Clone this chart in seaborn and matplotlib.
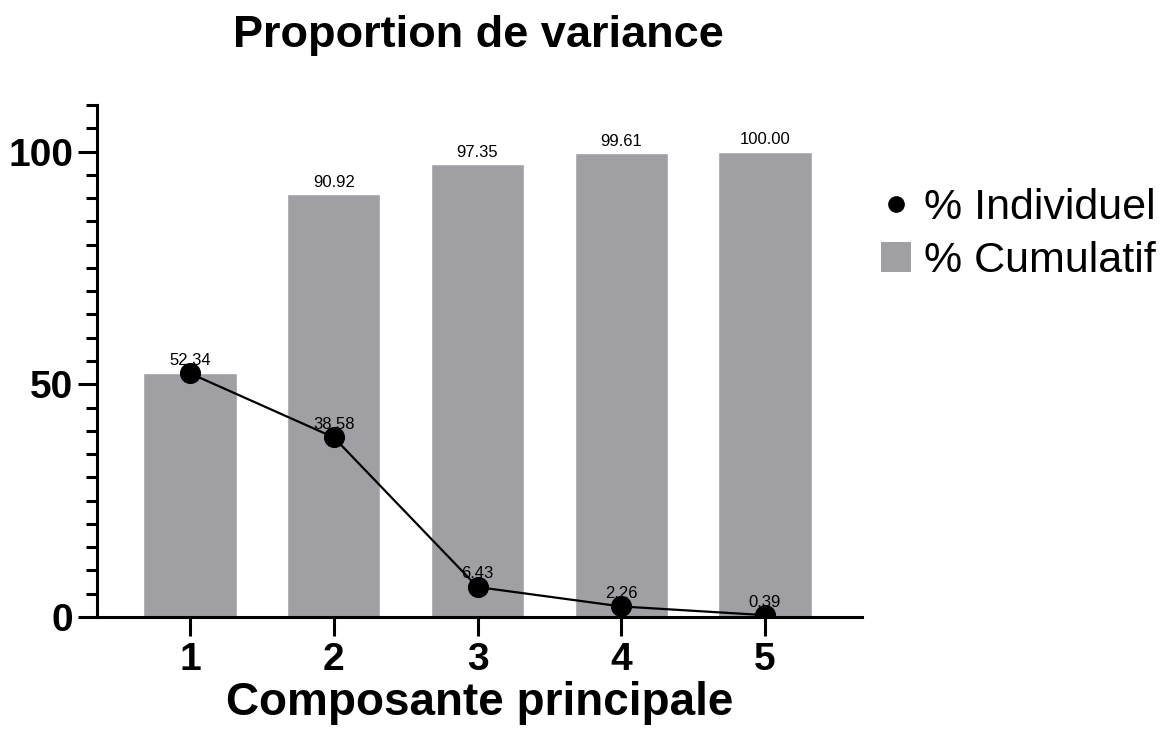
import matplotlib
matplotlib.use("Agg")
import matplotlib.pyplot as plt
import seaborn as sns
import pandas as pd
from matplotlib.lines import Line2D
from matplotlib.patches import Patch
from matplotlib.ticker import MultipleLocator

components = ["1", "2", "3", "4", "5"]
individual = [52.34, 38.58, 6.43, 2.26, 0.39]
cumulative = [52.34, 90.92, 97.35, 99.61, 100.00]
title = "Proportion de variance"
xlabel = "Composante principale"
legend_labels = ["% Individuel", "% Cumulatif"]

sns.set_theme(style="ticks")
plt.rcParams["font.family"] = ["Liberation Sans", "DejaVu Sans"]

bar_color = "#a09fa4"
df = pd.DataFrame({"comp": components, "ind": individual, "cum": cumulative})

fig = plt.figure(figsize=(11.69, 7.31), dpi=100)
ax = fig.add_axes([0.083, 0.156, 0.6544, 0.7004])

sns.barplot(data=df, x="comp", y="cum", color=bar_color, width=0.65,
            saturation=1, ax=ax, zorder=1)
sns.pointplot(data=df, x="comp", y="ind", color="black", markers="o",
              markersize=14, linewidth=1.6, ax=ax, zorder=3)

for i, (c, v) in enumerate(zip(cumulative, individual)):
    if abs(c - v) > 1e-9:
        ax.annotate(f"{c:.2f}", (i, c), xytext=(0, 3), textcoords="offset points",
                    ha="center", va="bottom", fontsize=12, color="black")
for i, v in enumerate(individual):
    ax.annotate(f"{v:.2f}", (i, v), xytext=(0, 4), textcoords="offset points",
                ha="center", va="bottom", fontsize=12, color="black", zorder=4)

ax.set_xlim(-0.647, 4.675)
ax.set_ylim(0, 110)
ax.set_yticks([0, 50, 100])
ax.yaxis.set_minor_locator(MultipleLocator(5))
sns.despine(ax=ax)
for s in ["left", "bottom"]:
    ax.spines[s].set_linewidth(2.2)
    ax.spines[s].set_color("black")
ax.tick_params(axis="y", which="major", length=14, width=2.2, pad=3,
               labelsize=28, colors="black")
ax.tick_params(axis="y", which="minor", length=8, width=2.2, colors="black")
ax.tick_params(axis="x", which="major", length=14, width=2.2, pad=4,
               labelsize=28, colors="black")
for lab in ax.get_xticklabels() + ax.get_yticklabels():
    lab.set_fontweight("bold")

ax.set_ylabel("")
ax.set_xlabel(xlabel, fontsize=33, fontweight="bold", labelpad=2, color="black")
fig.text(0.409, 0.951, title, ha="center", va="center", fontsize=32.5,
         fontweight="bold", color="black")

handles = [
    Line2D([0], [0], marker="o", color="black", linestyle="none", markersize=11),
    Patch(facecolor=bar_color, edgecolor="none"),
]
fig.legend(handles, legend_labels, loc="upper left",
           bbox_to_anchor=(0.739, 0.766), frameon=False, fontsize=31,
           labelcolor="black",
           handlelength=0.7, handletextpad=0.3, labelspacing=0.3,
           borderaxespad=0)

fig.savefig("out.png", dpi=100, facecolor="white")
